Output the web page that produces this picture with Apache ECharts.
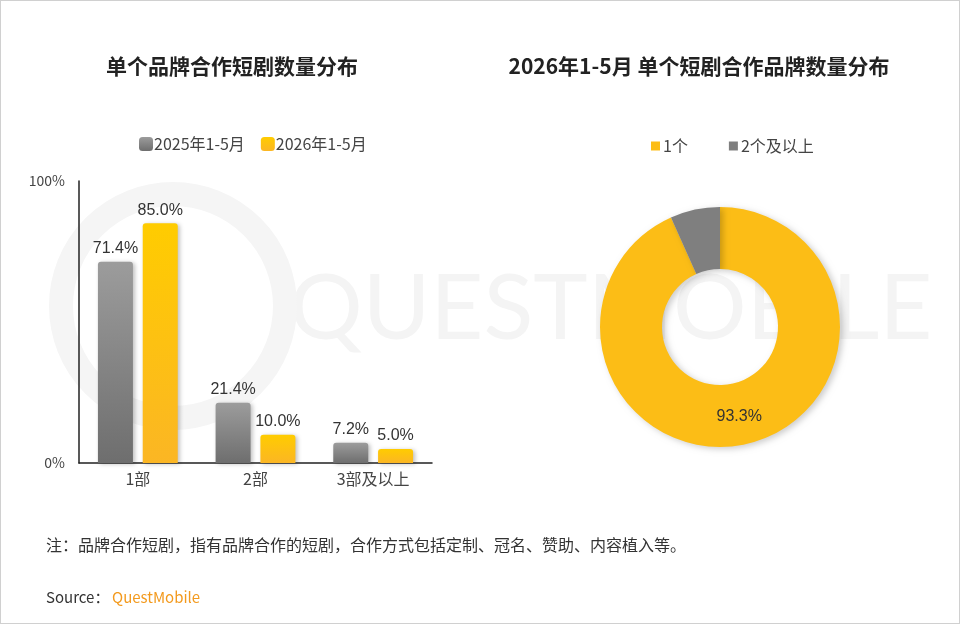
<!DOCTYPE html>
<html>
<head>
<meta charset="utf-8">
<script src="https://cdn.jsdelivr.net/npm/echarts@6/dist/echarts.min.js"></script>
<style>
html, body { margin: 0; padding: 0; background: #fff; }
#main { width: 958px; height: 622px; border: 1px solid #d0d0d0; }
</style>
</head>
<body>
<div id="main"></div>
<script>
// 单个品牌合作短剧数量分布
var barCategories = ['1部', '2部', '3部及以上'];
var seriesNames = ['2025年1-5月', '2026年1-5月'];
var data2025 = [71.4, 21.4, 7.2];
var data2026 = [85.0, 10.0, 5.0];

// 2026年1-5月 单个短剧合作品牌数量分布
var pieNames = ['1个', '2个及以上'];
var pieValues = [93.3, 6.7];

var font = '"Noto Sans CJK SC", "Microsoft YaHei", sans-serif';
var numFont = '"Liberation Sans", Arial, sans-serif';

var grayGrad = new echarts.graphic.LinearGradient(0, 0, 0, 1, [
    {offset: 0, color: '#9c9c9c'},
    {offset: 1, color: '#6e6e6e'}
]);
var yellowGrad = new echarts.graphic.LinearGradient(0, 0, 0, 1, [
    {offset: 0, color: '#ffcc00'},
    {offset: 1, color: '#fbb624'}
]);

function pct(p) { return p.value.toFixed(1) + '%'; }

var chart = echarts.init(document.getElementById('main'));

var option = {
    textStyle: { fontFamily: font },
    animation: false,
    title: [
        {
            text: '单个品牌合作短剧数量分布',
            left: 226, top: 50, textAlign: 'center',
            textStyle: { fontSize: 21, fontWeight: 'bold', color: '#222', fontFamily: font }
        },
        {
            text: '2026年1-5月 单个短剧合作品牌数量分布',
            left: 693, top: 50, textAlign: 'center',
            textStyle: { fontSize: 21, fontWeight: 'bold', color: '#222', fontFamily: font }
        }
    ],
    graphic: [
        {
            type: 'text', left: 288, top: 262, z: -10, silent: true,
            style: { text: 'QUESTMOBILE', fontSize: 92, fontFamily: 'Lato, sans-serif', fill: '#f4f4f4' }
        },
        {
            type: 'circle', shape: { cx: 172, cy: 305, r: 112 }, z: -10, silent: true,
            style: { fill: 'none', stroke: '#f5f5f5', lineWidth: 24 }
        },
        {
            type: 'text', left: 45, top: 536,
            style: { text: '注：品牌合作短剧，指有品牌合作的短剧，合作方式包括定制、冠名、赞助、内容植入等。', fontSize: 16, fill: '#333', fontFamily: font }
        },
        {
            type: 'text', left: 45, top: 589,
            style: { text: 'Source：', fontSize: 15, fill: '#333', fontFamily: font }
        },
        {
            type: 'text', left: 111, top: 589,
            style: { text: 'QuestMobile', fontSize: 15, fill: '#f39a1e', fontFamily: font }
        }
    ],
    legend: [
        {
            data: seriesNames,
            left: 138, top: 135, padding: 0,
            itemWidth: 14, itemHeight: 14, itemGap: 16,
            icon: 'roundRect',
            textStyle: { fontSize: 16, color: '#444', padding: [0, 0, 0, -4] }
        },
        {
            data: pieNames,
            left: 650, top: 137, padding: 0,
            itemWidth: 9, itemHeight: 9, itemGap: 41,
            icon: 'rect',
            textStyle: { fontSize: 16, color: '#444', padding: [0, 0, 0, -2] }
        }
    ],
    grid: {
        left: 78, right: 527, top: 180, bottom: 160
    },
    xAxis: {
        type: 'category',
        data: barCategories,
        axisLine: { lineStyle: { color: '#222', width: 1.5 } },
        axisTick: { show: false },
        axisLabel: { fontSize: 16, color: '#444', margin: 8 }
    },
    yAxis: {
        type: 'value',
        min: 0, max: 100, interval: 100,
        axisLine: { show: true, lineStyle: { color: '#222', width: 1.5 } },
        axisTick: { show: false },
        splitLine: { show: false },
        axisLabel: { fontSize: 14, color: '#444', formatter: '{value}%', margin: 14 }
    },
    series: [
        {
            name: seriesNames[0],
            type: 'bar',
            data: data2025,
            barWidth: 35,
            barGap: '28%',
            itemStyle: {
                color: grayGrad, borderRadius: [3, 3, 0, 0],
                shadowColor: 'rgba(0,0,0,0.25)', shadowBlur: 4, shadowOffsetX: 2, shadowOffsetY: 1
            },
            label: { show: true, position: 'top', fontSize: 16, color: '#333', fontFamily: numFont, formatter: pct }
        },
        {
            name: seriesNames[1],
            type: 'bar',
            data: data2026,
            barWidth: 35,
            itemStyle: {
                color: yellowGrad, borderRadius: [3, 3, 0, 0],
                shadowColor: 'rgba(0,0,0,0.25)', shadowBlur: 4, shadowOffsetX: 2, shadowOffsetY: 1
            },
            label: { show: true, position: 'top', fontSize: 16, color: '#333', fontFamily: numFont, formatter: pct }
        },
        {
            name: '品牌数量',
            type: 'pie',
            center: [719, 326],
            radius: [58, 120],
            startAngle: 90,
            clockwise: true,
            data: [
                { name: pieNames[0], value: pieValues[0], itemStyle: { color: '#fcbd16' } },
                { name: pieNames[1], value: pieValues[1], itemStyle: { color: '#7f7f7f' }, label: { show: false } }
            ],
            itemStyle: { shadowColor: 'rgba(0,0,0,0.2)', shadowBlur: 6, shadowOffsetX: 3, shadowOffsetY: 2 },
            label: {
                show: true, position: 'inside', fontSize: 16, color: '#333', fontFamily: numFont,
                formatter: pct
            },
            labelLine: { show: false }
        }
    ]
};

chart.setOption(option);
</script>
</body>
</html>
